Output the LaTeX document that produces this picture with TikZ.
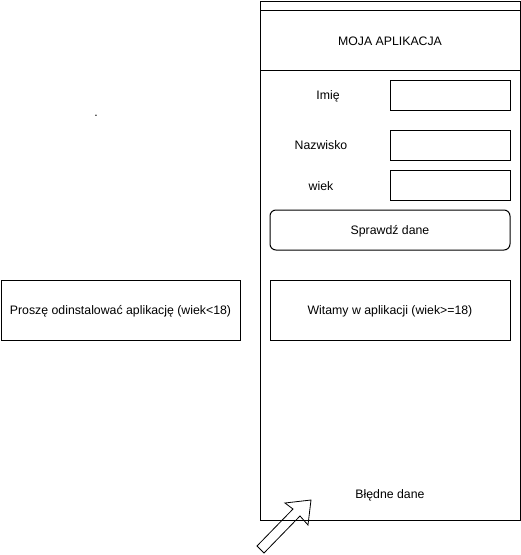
\documentclass[tikz,border=0pt]{standalone}
\usepackage{fontspec}
\setmainfont{Liberation Sans}
\begin{document}
\begin{tikzpicture}[x=1pt,y=-1pt,line width=1pt,
  every node/.style={font=\fontsize{12.3}{14}\selectfont, inner sep=0pt},
  box/.style={draw, rectangle},
  lbl/.style={anchor=center}]
\useasboundingbox (0,0) rectangle (521,555);
% outer frame
\draw (260,1) rectangle (520,520);
\draw (260,10) rectangle (520,70);
\node[lbl] (title) at (390,41) {MOJA APLIKACJA};
% fields
\draw (390,80) rectangle (510,110);
\draw (390,130) rectangle (510,160);
\draw (390,170) rectangle (510,200);
\node[lbl] (imie) at (328,96) {Imię};
\node[lbl] (nazw) at (321,145) {Nazwisko};
\node[lbl] (wiek) at (321,186) {wiek};
% button
\draw[rounded corners=6pt] (270,210) rectangle (510,250);
\node[lbl] (btn) at (390,231) {Sprawdź dane};
% result boxes
\draw (270,280) rectangle (510,340);
\node[lbl] (ok) at (390,311) {Witamy w aplikacji (wiek>=18)};
\draw (1,280) rectangle (240,340);
\node[lbl] (no) at (120.5,311) {Proszę odinstalować aplikację (wiek<18)};
\node[lbl] (err) at (390,495) {Błędne dane};
\node[lbl] (dot) at (96,115.5) {.};
% block arrow
\draw[line width=0.8pt, line join=miter] (311,500) -- (285,503) -- (293,509) -- (257,546) -- (264,553) -- (300,516) -- (308,525) -- cycle;
\end{tikzpicture}
\end{document}
